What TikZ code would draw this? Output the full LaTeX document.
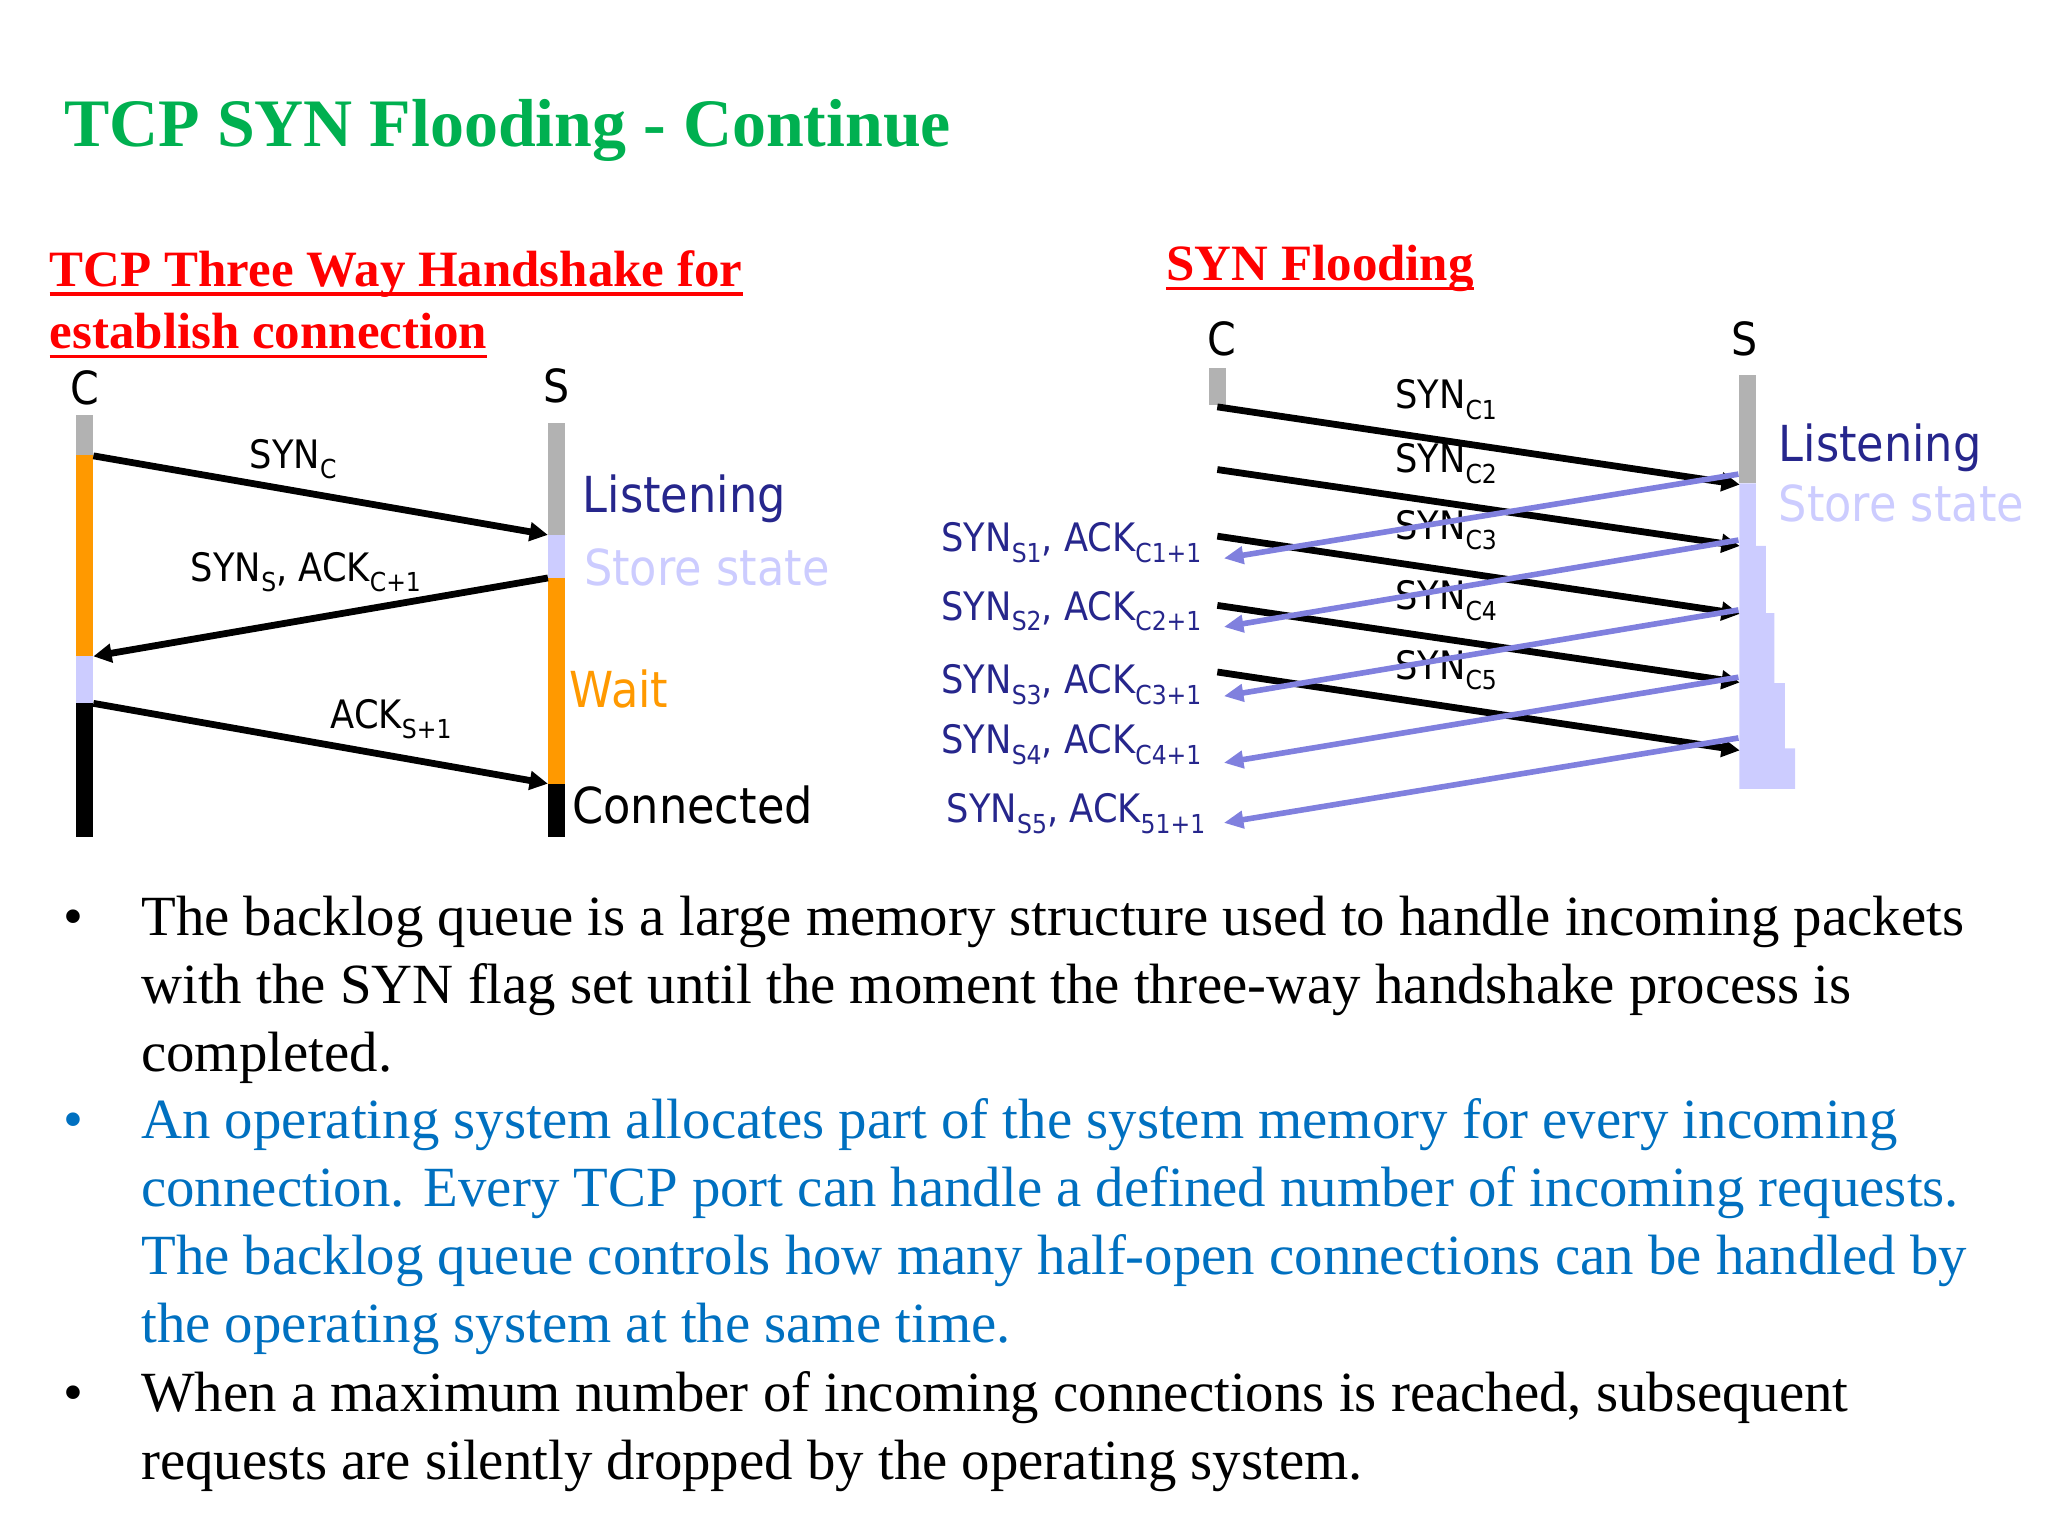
\documentclass[tikz,border=0pt]{standalone}
\usepackage{fontspec}
\setmainfont{Liberation Serif}
\newfontfamily\lab[FakeStretch=0.9]{DejaVu Sans}
\usetikzlibrary{arrows.meta}
\definecolor{titlegreen}{RGB}{0,176,80}
\definecolor{navy}{RGB}{38,38,140}
\definecolor{lav}{RGB}{204,204,255}
\definecolor{orng}{RGB}{255,153,0}
\definecolor{barg}{RGB}{178,178,178}
\definecolor{blarrow}{RGB}{128,128,222}
\definecolor{bodyblue}{RGB}{0,112,192}
\newcommand{\sbs}[1]{\raisebox{-8pt}{\fontsize{20}{20}\selectfont #1}}
\begin{document}
\begin{tikzpicture}[x=1pt,y=-1pt,
  txt/.style={inner sep=0pt, anchor=base west},
  lbl/.style={txt, font=\lab\fontsize{30}{30}\selectfont},
  rlbl/.style={inner sep=0pt, anchor=base east, text=navy, font=\lab\fontsize{30}{30}\selectfont},
  big/.style={txt, font=\lab\fontsize{38}{38}\selectfont},
  cs/.style={inner sep=0pt, anchor=base, font=\lab\fontsize{35}{35}\selectfont},
  body/.style={txt, font=\fontsize{43.5}{52}\selectfont},
  bul/.style={inner sep=0pt, anchor=base, font=\fontsize{43.5}{52}\selectfont},
  hdr/.style={txt, font=\bfseries\fontsize{39}{39}\selectfont, text=red},
  ul/.style={draw=red, line width=2.5pt},
  msg/.style={draw=black, line width=5.2pt, -{Triangle[length=14pt,width=14pt]}},
  rep/.style={draw=blarrow, line width=4.3pt, -{Triangle[length=15pt,width=13pt]}}
]
\useasboundingbox (0,0) rectangle (1568,1176);

% title and headers
\node[txt, font=\bfseries\fontsize{52}{52}\selectfont, text=titlegreen] (title) at (49,112) {TCP SYN Flooding - Continue};
\node[hdr] (h1) at (38,219) {TCP Three Way Handshake for};
\node[hdr] (h2) at (38,267) {establish connection};
\node[hdr] (h3) at (893,215) {SYN Flooding};
\draw[ul] ([yshift=-6pt]h1.base west) -- ([yshift=-6pt]h1.base east);
\draw[ul] ([yshift=-6pt]h2.base west) -- ([yshift=-6pt]h2.base east);
\draw[ul] ([yshift=-6pt]h3.base west) -- ([yshift=-6pt]h3.base east);

% ---------- left diagram ----------
\node[cs] (lc) at (65,310) {C};
\node[cs] (ls) at (426,308.5) {S};
\fill[barg] (58.5,318) rectangle (71.5,348.5);
\fill[orng] (58.5,348.5) rectangle (71.5,502.5);
\fill[lav] (58.5,502.5) rectangle (71.5,538.5);
\fill[black] (58.5,538.5) rectangle (71.5,641);
\fill[barg] (419.5,324) rectangle (432.5,409.5);
\fill[lav] (419.5,409.5) rectangle (432.5,442.5);
\fill[orng] (419.5,442.5) rectangle (432.5,600);
\fill[black] (419.5,600) rectangle (432.5,641);

\node[lbl] (l1) at (191,358.6) {SYN\sbs{C}};
\node[lbl] (l2) at (146,445) {SYN\sbs{S}, ACK\sbs{C+1}};
\node[lbl] (l3) at (253,557.5) {ACK\sbs{S+1}};

\node[big, text=navy] (lis1) at (446,392) {Listening};
\node[big, text=lav] (sto1) at (447,448.5) {Store state};
\node[big, text=orng] (wait) at (436,542) {Wait};
\node[big, text=black] (conn) at (438,630.5) {Connected};

\coordinate (a1s) at (71.5,349);
\coordinate (a1e) at (419.5,409.5);
\coordinate (a2s) at (419.5,442.5);
\coordinate (a2e) at (71.5,502.5);
\coordinate (a3s) at (71.5,538.5);
\coordinate (a3e) at (419.5,600);
\draw[msg] (a1s) -- (a1e);
\draw[msg] (a2s) -- (a2e);
\draw[msg] (a3s) -- (a3e);

% ---------- right diagram ----------
\node[cs] (rc) at (935.5,272) {C};
\node[cs] (rs) at (1336,272) {S};
\fill[barg] (925.6,281.6) rectangle (938.5,310.3);
\fill[barg] (1331.6,287) rectangle (1344.3,370);
\fill[lav] (1331.6,370) -- (1344.3,370) -- (1344.3,418) -- (1352,418) -- (1352,469.5)
  -- (1358.5,469.5) -- (1358.5,523) -- (1366.5,523) -- (1366.5,573) -- (1374.4,573)
  -- (1374.4,604) -- (1331.6,604) -- cycle;
\node[big, text=navy] (lis2) at (1361.6,353.6) {Listening};
\node[big, text=lav] (sto2) at (1361.6,399.6) {Store state};

\node[lbl] (c1) at (1068,313) {SYN\sbs{C1}};
\node[lbl] (c2) at (1068,362) {SYN\sbs{C2}};
\node[lbl] (c3) at (1068,413) {SYN\sbs{C3}};
\node[lbl] (c4) at (1068,467) {SYN\sbs{C4}};
\node[lbl] (c5) at (1068,520) {SYN\sbs{C5}};

\node[rlbl] (s1) at (920,422.6) {SYN\sbs{S1}, ACK\sbs{C1+1}};
\node[rlbl] (s2) at (920,475) {SYN\sbs{S2}, ACK\sbs{C2+1}};
\node[rlbl] (s3) at (920,531) {SYN\sbs{S3}, ACK\sbs{C3+1}};
\node[rlbl] (s4) at (920,577) {SYN\sbs{S4}, ACK\sbs{C4+1}};
\node[rlbl] (s5) at (923,630) {SYN\sbs{S5}, ACK\sbs{51+1}};

\coordinate (k1s) at (932,311.5);   \coordinate (k1e) at (1332,371);
\coordinate (k2s) at (932,359.5);   \coordinate (k2e) at (1332,418);
\coordinate (k3s) at (932,410.5);   \coordinate (k3e) at (1332,470);
\coordinate (k4s) at (932,463.5);   \coordinate (k4e) at (1332,522.5);
\coordinate (k5s) at (932,514.5);   \coordinate (k5e) at (1332,574.5);
\draw[msg] (k1s) -- (k1e);
\draw[msg] (k2s) -- (k2e);
\draw[msg] (k3s) -- (k3e);
\draw[msg] (k4s) -- (k4e);
\draw[msg] (k5s) -- (k5e);

\coordinate (r1s) at (1331,363);   \coordinate (r1e) at (937,427.5);
\coordinate (r2s) at (1331,413.5); \coordinate (r2e) at (937,480);
\coordinate (r3s) at (1331,467);   \coordinate (r3e) at (937,533);
\coordinate (r4s) at (1331,518.5); \coordinate (r4e) at (937,584);
\coordinate (r5s) at (1331,565);   \coordinate (r5e) at (937,630);
\draw[rep] (r1s) -- (r1e);
\draw[rep] (r2s) -- (r2e);
\draw[rep] (r3s) -- (r3e);
\draw[rep] (r4s) -- (r4e);
\draw[rep] (r5s) -- (r5e);

% ---------- bullet text ----------
\node[bul] (bu1) at (56,716) {\textbullet};
\node[body] (t1) at (108,716) {The backlog queue is a large memory structure used to handle incoming packets};
\node[body] (t2) at (108,768) {with the SYN flag set until the moment the three-way handshake process is};
\node[body] (t3) at (108,820) {completed.};
\node[bul, text=bodyblue] (bu2) at (56,872) {\textbullet};
\node[body, text=bodyblue] (t4) at (108,872) {An operating system allocates part of the system memory for every incoming};
\node[body, text=bodyblue] (t5) at (108,924) {connection. Every TCP port can handle a defined number of incoming requests.};
\node[body, text=bodyblue] (t6) at (108,976) {The backlog queue controls how many half-open connections can be handled by};
\node[body, text=bodyblue] (t7) at (108,1028) {the operating system at the same time.};
\node[bul] (bu3) at (56,1081) {\textbullet};
\node[body] (t8) at (108,1081) {When a maximum number of incoming connections is reached, subsequent};
\node[body] (t9) at (108,1133) {requests are silently dropped by the operating system.};
\end{tikzpicture}
\end{document}
